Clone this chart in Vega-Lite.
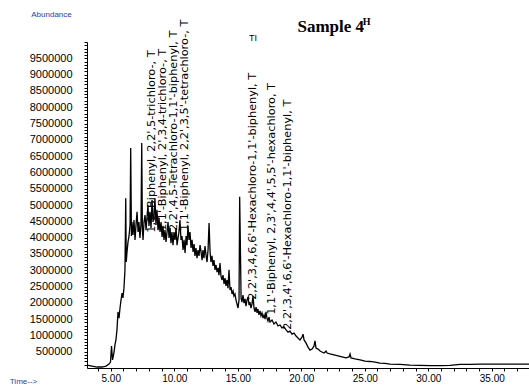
{
  "$schema": "https://vega.github.io/schema/vega-lite/v6.json",
  "width": 442,
  "height": 326,
  "autosize": {"type": "none"},
  "padding": {"left": 87, "top": 42, "right": 0, "bottom": 21},
  "background": "white",
  "config": {
    "view": {"stroke": null},
    "axis": {"grid": false, "domainColor": "#000000", "tickColor": "#000000", "labelColor": "#000000", "labelFont": "Liberation Sans", "titleFont": "Liberation Sans", "domainWidth": 1, "tickWidth": 1}
  },
  "datasets": {
    "tic": [
      {"t":3.13,"a":90000},{"t":3.52,"a":60000},{"t":3.92,"a":30000},{"t":4.31,"a":30000},{"t":4.63,"a":60000},{"t":4.86,"a":120000},{"t":4.98,"a":180000},{"t":5.06,"a":670000},{"t":5.14,"a":250000},{"t":5.26,"a":490000},{"t":5.33,"a":710000},{"t":5.41,"a":860000},{"t":5.49,"a":1170000},{"t":5.57,"a":1720000},{"t":5.65,"a":1530000},{"t":5.73,"a":1840000},{"t":5.81,"a":2090000},{"t":5.89,"a":2300000},{"t":5.96,"a":2150000},{"t":6.04,"a":2450000},{"t":6.12,"a":3010000},{"t":6.18,"a":5210000},{"t":6.22,"a":3250000},{"t":6.28,"a":3560000},{"t":6.36,"a":3870000},{"t":6.44,"a":4050000},{"t":6.52,"a":4390000},{"t":6.57,"a":6750000},{"t":6.63,"a":4050000},{"t":6.67,"a":4480000},{"t":6.75,"a":4080000},{"t":6.83,"a":4540000},{"t":6.91,"a":3930000},{"t":6.99,"a":4390000},{"t":7.07,"a":4790000},{"t":7.15,"a":4170000},{"t":7.22,"a":4480000},{"t":7.30,"a":3990000},{"t":7.38,"a":4390000},{"t":7.44,"a":6900000},{"t":7.49,"a":4290000},{"t":7.54,"a":3930000},{"t":7.62,"a":4480000},{"t":7.70,"a":4690000},{"t":7.78,"a":4230000},{"t":7.85,"a":4600000},{"t":7.93,"a":5000000},{"t":8.01,"a":4360000},{"t":8.09,"a":4790000},{"t":8.17,"a":4290000},{"t":8.25,"a":5150000},{"t":8.33,"a":4480000},{"t":8.41,"a":4690000},{"t":8.48,"a":5210000},{"t":8.56,"a":4390000},{"t":8.64,"a":4850000},{"t":8.72,"a":4230000},{"t":8.80,"a":4600000},{"t":8.88,"a":4170000},{"t":8.96,"a":4480000},{"t":9.04,"a":4020000},{"t":9.11,"a":4360000},{"t":9.19,"a":3930000},{"t":9.27,"a":4230000},{"t":9.35,"a":3870000},{"t":9.43,"a":4170000},{"t":9.51,"a":4480000},{"t":9.59,"a":3990000},{"t":9.67,"a":4290000},{"t":9.74,"a":3830000},{"t":9.82,"a":4170000},{"t":9.90,"a":3770000},{"t":9.98,"a":4170000},{"t":10.06,"a":3930000},{"t":10.14,"a":4290000},{"t":10.22,"a":3770000},{"t":10.30,"a":3990000},{"t":10.37,"a":4170000},{"t":10.45,"a":4540000},{"t":10.53,"a":3930000},{"t":10.61,"a":4050000},{"t":10.69,"a":3620000},{"t":10.77,"a":3930000},{"t":10.85,"a":3530000},{"t":10.93,"a":4050000},{"t":11.00,"a":3770000},{"t":11.08,"a":4360000},{"t":11.16,"a":3930000},{"t":11.24,"a":4170000},{"t":11.32,"a":3680000},{"t":11.40,"a":3930000},{"t":11.48,"a":3560000},{"t":11.56,"a":3800000},{"t":11.63,"a":3440000},{"t":11.71,"a":3680000},{"t":11.79,"a":3370000},{"t":11.87,"a":3620000},{"t":11.95,"a":3440000},{"t":12.03,"a":3770000},{"t":12.11,"a":3560000},{"t":12.19,"a":3310000},{"t":12.26,"a":3620000},{"t":12.34,"a":3370000},{"t":12.42,"a":3740000},{"t":12.50,"a":3470000},{"t":12.58,"a":3250000},{"t":12.66,"a":3620000},{"t":12.74,"a":4450000},{"t":12.82,"a":3560000},{"t":12.89,"a":3250000},{"t":12.97,"a":3440000},{"t":13.05,"a":3130000},{"t":13.13,"a":3310000},{"t":13.21,"a":3010000},{"t":13.29,"a":3160000},{"t":13.37,"a":2940000},{"t":13.45,"a":3070000},{"t":13.52,"a":2850000},{"t":13.60,"a":3220000},{"t":13.68,"a":2820000},{"t":13.76,"a":2700000},{"t":13.84,"a":2850000},{"t":13.92,"a":2580000},{"t":14.00,"a":2760000},{"t":14.07,"a":2520000},{"t":14.15,"a":2700000},{"t":14.23,"a":2450000},{"t":14.31,"a":3010000},{"t":14.39,"a":2390000},{"t":14.47,"a":2480000},{"t":14.55,"a":2270000},{"t":14.63,"a":2360000},{"t":14.70,"a":2210000},{"t":14.78,"a":2270000},{"t":14.86,"a":2090000},{"t":14.94,"a":1960000},{"t":15.02,"a":1840000},{"t":15.10,"a":2090000},{"t":15.15,"a":5250000},{"t":15.20,"a":3930000},{"t":15.26,"a":2150000},{"t":15.33,"a":2020000},{"t":15.41,"a":2240000},{"t":15.49,"a":1990000},{"t":15.57,"a":2120000},{"t":15.65,"a":1900000},{"t":15.73,"a":2090000},{"t":15.81,"a":2180000},{"t":15.89,"a":1930000},{"t":15.96,"a":2020000},{"t":16.04,"a":1840000},{"t":16.12,"a":1960000},{"t":16.20,"a":2210000},{"t":16.28,"a":1840000},{"t":16.36,"a":1720000},{"t":16.44,"a":1870000},{"t":16.52,"a":1690000},{"t":16.59,"a":1810000},{"t":16.67,"a":1630000},{"t":16.75,"a":1750000},{"t":16.83,"a":1600000},{"t":16.91,"a":1690000},{"t":16.99,"a":1530000},{"t":17.07,"a":1630000},{"t":17.15,"a":1500000},{"t":17.22,"a":1720000},{"t":17.30,"a":1530000},{"t":17.38,"a":1440000},{"t":17.46,"a":1560000},{"t":17.54,"a":1410000},{"t":17.70,"a":1470000},{"t":17.85,"a":1350000},{"t":18.01,"a":1410000},{"t":18.17,"a":1290000},{"t":18.33,"a":1320000},{"t":18.48,"a":1230000},{"t":18.64,"a":1260000},{"t":18.80,"a":1170000},{"t":18.96,"a":1100000},{"t":19.11,"a":1130000},{"t":19.27,"a":1040000},{"t":19.43,"a":1070000},{"t":19.59,"a":980000},{"t":19.74,"a":920000},{"t":19.90,"a":860000},{"t":20.06,"a":950000},{"t":20.14,"a":1040000},{"t":20.22,"a":860000},{"t":20.37,"a":770000},{"t":20.53,"a":640000},{"t":20.69,"a":550000},{"t":20.85,"a":580000},{"t":21.00,"a":670000},{"t":21.08,"a":830000},{"t":21.16,"a":610000},{"t":21.32,"a":580000},{"t":21.48,"a":520000},{"t":21.63,"a":490000},{"t":21.79,"a":460000},{"t":21.95,"a":520000},{"t":22.03,"a":460000},{"t":22.26,"a":430000},{"t":22.58,"a":400000},{"t":22.89,"a":370000},{"t":23.21,"a":340000},{"t":23.52,"a":310000},{"t":23.76,"a":340000},{"t":23.84,"a":430000},{"t":23.92,"a":310000},{"t":24.23,"a":280000},{"t":24.63,"a":250000},{"t":25.02,"a":210000},{"t":25.41,"a":200000},{"t":25.81,"a":180000},{"t":26.20,"a":150000},{"t":26.59,"a":140000},{"t":26.99,"a":120000},{"t":27.78,"a":110000},{"t":28.56,"a":90000},{"t":29.35,"a":80000},{"t":30.14,"a":70000},{"t":30.93,"a":70000},{"t":31.71,"a":80000},{"t":32.50,"a":110000},{"t":33.29,"a":110000},{"t":34.08,"a":120000},{"t":34.86,"a":120000},{"t":35.65,"a":120000},{"t":36.44,"a":120000},{"t":37.23,"a":120000},{"t":37.93,"a":120000}
    ],
    "peaks": [
      {"t":8.25,"a":4150000,"label":"1,1'-Biphenyl, 2,2',5-trichloro-, T"},
      {"t":9.11,"a":4200000,"label":"1,1'-Biphenyl, 2',3,4-trichloro-, T"},
      {"t":9.98,"a":4200000,"label":"2,2',4,5-Tetrachloro-1,1'-biphenyl, T"},
      {"t":10.85,"a":4200000,"label":"1,1'-Biphenyl, 2,2',3,5'-tetrachloro-, T"},
      {"t":16.20,"a":2090000,"label":"2,2',3,4,6,6'-Hexachloro-1,1'-biphenyl, T"},
      {"t":17.70,"a":1630000,"label":"1,1'-Biphenyl, 2,3',4,4',5,5'-hexachloro, T"},
      {"t":18.96,"a":1170000,"label":"2,2',3,4',6,6'-Hexachloro-1,1'-biphenyl, T"}
    ],
    "heading": [{"t":19.70,"a":10310000,"label":"Sample 4"}],
    "sup": [{"t":24.85,"a":10520000,"label":"H"}],
    "ti": [{"t":16.20,"a":10030000,"label":"TI"}]
  },
  "encoding": {
    "x": {
      "field": "t", "type": "quantitative",
      "scale": {"domain": [3.13, 37.93], "nice": false, "zero": false},
      "axis": {
        "values": [4,5,6,7,8,9,10,11,12,13,14,15,16,17,18,19,20,21,22,23,24,25,26,27,28,29,30,31,32,33,34,35,36,37],
        "labelExpr": "datum.value % 5 === 0 ? format(datum.value, '.2f') : ''",
        "labelOverlap": false, "labelFontSize": 10, "labelPadding": 2, "tickSize": 3,
        "title": "Time-->", "titleAngle": 0, "titleX": -64, "titleY": 13, "titleAlign": "center", "titleBaseline": "middle",
        "titleFontSize": 8, "titleFontWeight": "normal", "titleColor": "#2a3cb4"
      }
    },
    "y": {
      "field": "a", "type": "quantitative",
      "scale": {"domain": [0, 10000000], "nice": false},
      "axis": {
        "values": [100000,200000,300000,400000,500000,600000,700000,800000,900000,1000000,1100000,1200000,1300000,1400000,1500000,1600000,1700000,1800000,1900000,2000000,2100000,2200000,2300000,2400000,2500000,2600000,2700000,2800000,2900000,3000000,3100000,3200000,3300000,3400000,3500000,3600000,3700000,3800000,3900000,4000000,4100000,4200000,4300000,4400000,4500000,4600000,4700000,4800000,4900000,5000000,5100000,5200000,5300000,5400000,5500000,5600000,5700000,5800000,5900000,6000000,6100000,6200000,6300000,6400000,6500000,6600000,6700000,6800000,6900000,7000000,7100000,7200000,7300000,7400000,7500000,7600000,7700000,7800000,7900000,8000000,8100000,8200000,8300000,8400000,8500000,8600000,8700000,8800000,8900000,9000000,9100000,9200000,9300000,9400000,9500000,9600000,9700000,9800000,9900000,10000000],
        "labelExpr": "datum.value % 500000 === 0 && datum.value < 10000000 ? format(datum.value, 'd') : ''",
        "labelOverlap": false, "labelFontSize": 11, "labelPadding": 12, "tickSize": 3,
        "title": "Abundance", "titleAngle": 0, "titleX": -36, "titleY": -28, "titleAlign": "center", "titleBaseline": "middle",
        "titleFontSize": 8, "titleFontWeight": "normal", "titleColor": "#2a3cb4"
      }
    }
  },
  "layer": [
    {"data": {"name": "tic"}, "mark": {"type": "line", "color": "#000000", "strokeWidth": 1.3, "interpolate": "linear"}},
    {"data": {"name": "peaks"}, "mark": {"type": "text", "angle": 270, "align": "left", "baseline": "middle", "font": "DejaVu Sans", "fontSize": 11.3, "color": "#000000"}, "encoding": {"text": {"field": "label"}}},
    {"data": {"name": "heading"}, "mark": {"type": "text", "align": "left", "baseline": "alphabetic", "font": "Liberation Serif", "fontWeight": "bold", "fontSize": 17, "color": "#000000"}, "encoding": {"text": {"field": "label"}}},
    {"data": {"name": "sup"}, "mark": {"type": "text", "align": "left", "baseline": "alphabetic", "font": "Liberation Serif", "fontWeight": "bold", "fontSize": 10, "color": "#000000"}, "encoding": {"text": {"field": "label"}}},
    {"data": {"name": "ti"}, "mark": {"type": "text", "align": "center", "baseline": "alphabetic", "font": "Liberation Sans", "fontSize": 9, "color": "#000000"}, "encoding": {"text": {"field": "label"}}}
  ]
}
